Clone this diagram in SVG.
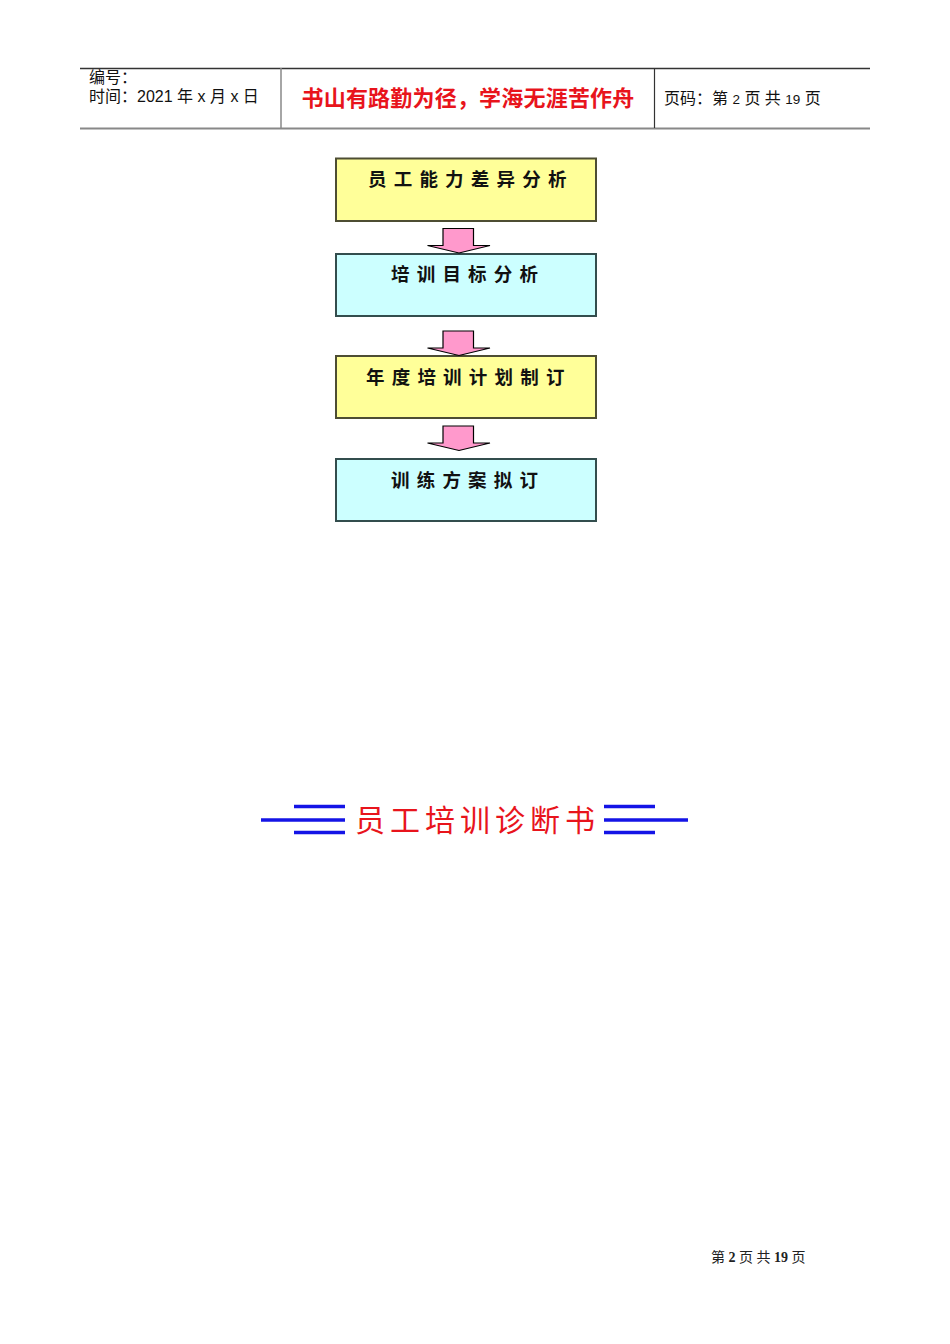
<svg xmlns="http://www.w3.org/2000/svg" width="950" height="1344" viewBox="0 0 950 1344">
<style>
.hd{font-family:"Liberation Sans","Noto Sans CJK SC",sans-serif;font-size:16px;fill:#111}
.motto{font-family:"Liberation Sans","Noto Sans CJK SC",sans-serif;font-size:22px;font-weight:bold;fill:#e8141c}
.bt{font-family:"Noto Sans CJK SC",sans-serif;font-size:18.5px;font-weight:bold;fill:#111;letter-spacing:7.2px}
.y{fill:#ffff99;stroke:#4d4d33;stroke-width:2}
.c{fill:#ccffff;stroke:#334d4d;stroke-width:2}
.arr{fill:#ff99cc;stroke:#000;stroke-width:1.2;stroke-linejoin:miter}
.bl{stroke:#1414e6;stroke-width:3.5}
.title{font-family:"Noto Sans CJK SC",serif;font-size:30px;fill:#e8141c;letter-spacing:5px}
.ft{font-family:"Liberation Serif","Noto Sans CJK SC",serif;font-size:14px;fill:#222}
</style>
<g id="header">
<line x1="80" y1="68.5" x2="870" y2="68.5" stroke="#333" stroke-width="1.3"/>
<line x1="80" y1="128.5" x2="870" y2="128.5" stroke="#888" stroke-width="2"/>
<line x1="281" y1="68" x2="281" y2="128" stroke="#888" stroke-width="1.5"/>
<line x1="654.5" y1="68" x2="654.5" y2="128" stroke="#333" stroke-width="1.2"/>
<text class="hd" x="89" y="83">编号：</text>
<text class="hd" x="89" y="102">时间：2021 年 x 月 x 日</text>
<text class="motto" x="468" y="106" text-anchor="middle" letter-spacing="0.2">书山有路勤为径，学海无涯苦作舟</text>
<text class="hd" x="664" y="104">页码：第 <tspan font-size="13.5">2</tspan> 页 共 <tspan font-size="13.5">19</tspan> 页</text>
</g>
<g id="node1"><rect class="y" x="336" y="158.5" width="260" height="62.5"/><text class="bt" x="368" y="186">员工能力差异分析</text></g>
<g id="node2"><rect class="c" x="336" y="254" width="260" height="62"/><text class="bt" x="391" y="281">培训目标分析</text></g>
<g id="node3"><rect class="y" x="336" y="356" width="260" height="62"/><text class="bt" x="366" y="384">年度培训计划制订</text></g>
<g id="node4"><rect class="c" x="336" y="459" width="260" height="62"/><text class="bt" x="391" y="487">训练方案拟订</text></g>
<g id="connectors">
<path class="arr" d="M443 228.5 H473.5 V245.5 H490 L459 253 L427.5 245.5 H443 Z"/>
<path class="arr" d="M443 331 H473.5 V348 H490 L459 355.5 L427.5 348 H443 Z"/>
<path class="arr" d="M443 426 H473.5 V443 H490 L459 450.5 L427.5 443 H443 Z"/>
</g>
<g id="title">
<line class="bl" x1="294" y1="806.5" x2="345" y2="806.5"/>
<line class="bl" x1="261" y1="820" x2="345" y2="820"/>
<line class="bl" x1="294" y1="832.5" x2="345" y2="832.5"/>
<line class="bl" x1="604" y1="806.5" x2="655" y2="806.5"/>
<line class="bl" x1="604" y1="820" x2="688" y2="820"/>
<line class="bl" x1="604" y1="832.5" x2="655" y2="832.5"/>
<text class="title" x="355" y="831">员工培训诊断书</text>
</g>
<g id="footer"><text class="ft" x="711" y="1262">第 <tspan font-weight="bold">2</tspan> 页 共 <tspan font-weight="bold">19</tspan> 页</text></g>
</svg>
